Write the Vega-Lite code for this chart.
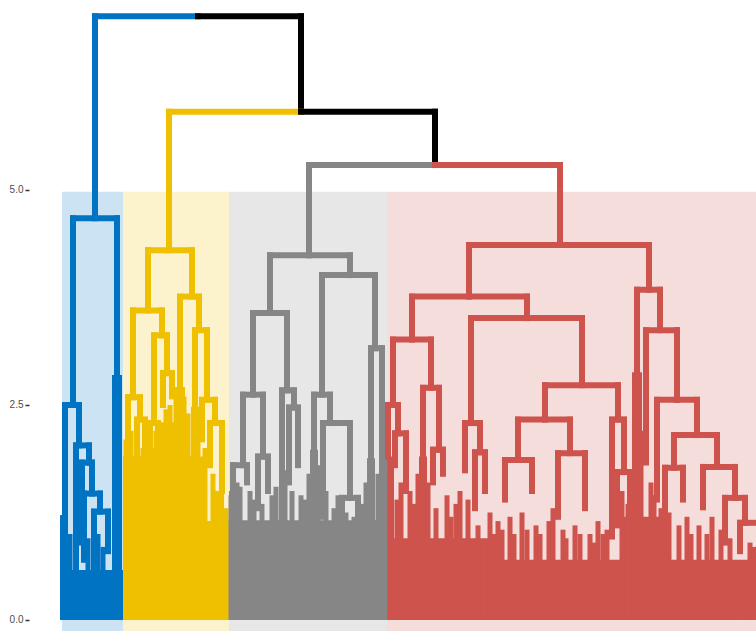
{
  "$schema": "https://vega.github.io/schema/vega-lite/v6.json",
  "width": 724,
  "height": 631,
  "autosize": {"type": "none"},
  "padding": {"left": 32, "top": 0, "right": 0, "bottom": 0},
  "background": "white",
  "config": {"view": {"stroke": null}},
  "datasets": {
    "bands": [
      {"x": 62, "x2": 123, "y": -0.13, "y2": 4.98, "c": "b"},
      {"x": 123, "x2": 229, "y": -0.13, "y2": 4.98, "c": "y"},
      {"x": 229, "x2": 387, "y": -0.13, "y2": 4.98, "c": "g"},
      {"x": 387, "x2": 756, "y": -0.13, "y2": 4.98, "c": "r"}
    ],
    "base": [
      {"x": 60, "x2": 123, "y": 0, "y2": 0.58, "c": "b"},
      {"x": 60, "x2": 68, "y": 0, "y2": 1.22, "c": "b"},
      {"x": 112, "x2": 122, "y": 0, "y2": 2.85, "c": "b"},
      {"x": 123, "x2": 203, "y": 0, "y2": 1.9, "c": "y"},
      {"x": 203, "x2": 229, "y": 0, "y2": 1.15, "c": "y"},
      {"x": 161, "x2": 174, "y": 0, "y2": 2.3, "c": "y"},
      {"x": 175, "x2": 185, "y": 0, "y2": 2.71, "c": "y"},
      {"x": 191, "x2": 199, "y": 0, "y2": 2.48, "c": "y"},
      {"x": 212, "x2": 224, "y": 0, "y2": 1.5, "c": "y"},
      {"x": 229, "x2": 387, "y": 0, "y2": 1.16, "c": "g"},
      {"x": 229, "x2": 240, "y": 0, "y2": 1.5, "c": "g"},
      {"x": 279, "x2": 286, "y": 0, "y2": 1.74, "c": "g"},
      {"x": 310, "x2": 318, "y": 0, "y2": 1.98, "c": "g"},
      {"x": 367, "x2": 375, "y": 0, "y2": 1.88, "c": "g"},
      {"x": 379, "x2": 386, "y": 0, "y2": 2.07, "c": "g"},
      {"x": 387, "x2": 756, "y": 0, "y2": 0.7, "c": "r"},
      {"x": 387, "x2": 500, "y": 0, "y2": 0.95, "c": "r"},
      {"x": 387, "x2": 394, "y": 0, "y2": 1.9, "c": "r"},
      {"x": 419, "x2": 427, "y": 0, "y2": 1.9, "c": "r"},
      {"x": 632, "x2": 642, "y": 0, "y2": 2.88, "c": "r"},
      {"x": 623, "x2": 670, "y": 0, "y2": 1.2, "c": "r"}
    ],
    "leaves": [
      {"x": 70, "x2": 70, "y": 0, "y2": 1.0, "c": "b"},
      {"x": 88, "x2": 88, "y": 0, "y2": 0.95, "c": "b"},
      {"x": 98, "x2": 98, "y": 0, "y2": 1.0, "c": "b"},
      {"x": 103, "x2": 103, "y": 0, "y2": 0.85, "c": "b"},
      {"x": 126, "x2": 126, "y": 0, "y2": 2.1, "c": "y"},
      {"x": 131, "x2": 131, "y": 0, "y2": 2.2, "c": "y"},
      {"x": 143, "x2": 143, "y": 0, "y2": 2.0, "c": "y"},
      {"x": 148, "x2": 148, "y": 0, "y2": 2.1, "c": "y"},
      {"x": 152, "x2": 152, "y": 0, "y2": 2.0, "c": "y"},
      {"x": 156, "x2": 156, "y": 0, "y2": 2.2, "c": "y"},
      {"x": 160, "x2": 160, "y": 0, "y2": 2.1, "c": "y"},
      {"x": 166, "x2": 166, "y": 0, "y2": 2.45, "c": "y"},
      {"x": 170, "x2": 170, "y": 0, "y2": 2.5, "c": "y"},
      {"x": 176, "x2": 176, "y": 0, "y2": 2.6, "c": "y"},
      {"x": 184, "x2": 184, "y": 0, "y2": 2.6, "c": "y"},
      {"x": 188, "x2": 188, "y": 0, "y2": 2.4, "c": "y"},
      {"x": 198, "x2": 198, "y": 0, "y2": 2.3, "c": "y"},
      {"x": 205, "x2": 205, "y": 0, "y2": 2.0, "c": "y"},
      {"x": 213, "x2": 213, "y": 0, "y2": 1.7, "c": "y"},
      {"x": 218, "x2": 218, "y": 0, "y2": 1.45, "c": "y"},
      {"x": 226, "x2": 226, "y": 0, "y2": 1.3, "c": "y"},
      {"x": 231, "x2": 231, "y": 0, "y2": 1.45, "c": "g"},
      {"x": 237, "x2": 237, "y": 0, "y2": 1.6, "c": "g"},
      {"x": 240, "x2": 240, "y": 0, "y2": 1.55, "c": "g"},
      {"x": 250, "x2": 250, "y": 0, "y2": 1.5, "c": "g"},
      {"x": 254, "x2": 254, "y": 0, "y2": 1.4, "c": "g"},
      {"x": 262, "x2": 262, "y": 0, "y2": 1.35, "c": "g"},
      {"x": 272, "x2": 272, "y": 0, "y2": 1.45, "c": "g"},
      {"x": 276, "x2": 276, "y": 0, "y2": 1.55, "c": "g"},
      {"x": 285, "x2": 285, "y": 0, "y2": 1.7, "c": "g"},
      {"x": 292, "x2": 292, "y": 0, "y2": 1.5, "c": "g"},
      {"x": 301, "x2": 301, "y": 0, "y2": 1.45, "c": "g"},
      {"x": 305, "x2": 305, "y": 0, "y2": 1.4, "c": "g"},
      {"x": 309, "x2": 309, "y": 0, "y2": 1.7, "c": "g"},
      {"x": 318, "x2": 318, "y": 0, "y2": 1.8, "c": "g"},
      {"x": 326, "x2": 326, "y": 0, "y2": 1.5, "c": "g"},
      {"x": 334, "x2": 334, "y": 0, "y2": 1.3, "c": "g"},
      {"x": 338, "x2": 338, "y": 0, "y2": 1.45, "c": "g"},
      {"x": 346, "x2": 346, "y": 0, "y2": 1.25, "c": "g"},
      {"x": 354, "x2": 354, "y": 0, "y2": 1.2, "c": "g"},
      {"x": 362, "x2": 362, "y": 0, "y2": 1.35, "c": "g"},
      {"x": 366, "x2": 366, "y": 0, "y2": 1.6, "c": "g"},
      {"x": 378, "x2": 378, "y": 0, "y2": 1.7, "c": "g"},
      {"x": 385, "x2": 385, "y": 0, "y2": 1.9, "c": "g"},
      {"x": 390, "x2": 390, "y": 0, "y2": 1.7, "c": "r"},
      {"x": 397, "x2": 397, "y": 0, "y2": 1.4, "c": "r"},
      {"x": 401, "x2": 401, "y": 0, "y2": 1.6, "c": "r"},
      {"x": 410, "x2": 410, "y": 0, "y2": 1.5, "c": "r"},
      {"x": 414, "x2": 414, "y": 0, "y2": 1.35, "c": "r"},
      {"x": 418, "x2": 418, "y": 0, "y2": 1.7, "c": "r"},
      {"x": 428, "x2": 428, "y": 0, "y2": 1.6, "c": "r"},
      {"x": 436, "x2": 436, "y": 0, "y2": 1.3, "c": "r"},
      {"x": 447, "x2": 447, "y": 0, "y2": 1.45, "c": "r"},
      {"x": 451, "x2": 451, "y": 0, "y2": 1.2, "c": "r"},
      {"x": 456, "x2": 456, "y": 0, "y2": 1.35, "c": "r"},
      {"x": 460, "x2": 460, "y": 0, "y2": 1.5, "c": "r"},
      {"x": 468, "x2": 468, "y": 0, "y2": 1.4, "c": "r"},
      {"x": 478, "x2": 478, "y": 0, "y2": 1.1, "c": "r"},
      {"x": 490, "x2": 490, "y": 0, "y2": 1.25, "c": "r"},
      {"x": 494, "x2": 494, "y": 0, "y2": 1.0, "c": "r"},
      {"x": 498, "x2": 498, "y": 0, "y2": 1.15, "c": "r"},
      {"x": 502, "x2": 502, "y": 0, "y2": 1.05, "c": "r"},
      {"x": 510, "x2": 510, "y": 0, "y2": 1.2, "c": "r"},
      {"x": 514, "x2": 514, "y": 0, "y2": 1.0, "c": "r"},
      {"x": 522, "x2": 522, "y": 0, "y2": 1.25, "c": "r"},
      {"x": 527, "x2": 527, "y": 0, "y2": 1.05, "c": "r"},
      {"x": 536, "x2": 536, "y": 0, "y2": 1.1, "c": "r"},
      {"x": 540, "x2": 540, "y": 0, "y2": 1.0, "c": "r"},
      {"x": 549, "x2": 549, "y": 0, "y2": 1.15, "c": "r"},
      {"x": 553, "x2": 553, "y": 0, "y2": 1.3, "c": "r"},
      {"x": 563, "x2": 563, "y": 0, "y2": 1.05, "c": "r"},
      {"x": 566, "x2": 566, "y": 0, "y2": 0.95, "c": "r"},
      {"x": 575, "x2": 575, "y": 0, "y2": 1.1, "c": "r"},
      {"x": 580, "x2": 580, "y": 0, "y2": 1.0, "c": "r"},
      {"x": 590, "x2": 590, "y": 0, "y2": 1.0, "c": "r"},
      {"x": 594, "x2": 594, "y": 0, "y2": 0.9, "c": "r"},
      {"x": 598, "x2": 598, "y": 0, "y2": 1.15, "c": "r"},
      {"x": 603, "x2": 603, "y": 0, "y2": 1.0, "c": "r"},
      {"x": 607, "x2": 607, "y": 0, "y2": 1.05, "c": "r"},
      {"x": 622, "x2": 622, "y": 0, "y2": 1.5, "c": "r"},
      {"x": 628, "x2": 628, "y": 0, "y2": 1.35, "c": "r"},
      {"x": 641, "x2": 641, "y": 0, "y2": 2.2, "c": "r"},
      {"x": 651, "x2": 651, "y": 0, "y2": 1.6, "c": "r"},
      {"x": 654, "x2": 654, "y": 0, "y2": 1.45, "c": "r"},
      {"x": 661, "x2": 661, "y": 0, "y2": 1.3, "c": "r"},
      {"x": 669, "x2": 669, "y": 0, "y2": 1.25, "c": "r"},
      {"x": 679, "x2": 679, "y": 0, "y2": 1.1, "c": "r"},
      {"x": 687, "x2": 687, "y": 0, "y2": 1.2, "c": "r"},
      {"x": 691, "x2": 691, "y": 0, "y2": 1.0, "c": "r"},
      {"x": 699, "x2": 699, "y": 0, "y2": 1.1, "c": "r"},
      {"x": 707, "x2": 707, "y": 0, "y2": 1.0, "c": "r"},
      {"x": 712, "x2": 712, "y": 0, "y2": 1.2, "c": "r"},
      {"x": 721, "x2": 721, "y": 0, "y2": 1.05, "c": "r"},
      {"x": 730, "x2": 730, "y": 0, "y2": 0.95, "c": "r"},
      {"x": 750, "x2": 750, "y": 0, "y2": 0.9, "c": "r"},
      {"x": 754, "x2": 754, "y": 0, "y2": 0.85, "c": "r"}
    ],
    "segs": [
      {"x": 95, "x2": 198, "y": 7.02, "y2": 7.02, "c": "b"},
      {"x": 198, "x2": 301, "y": 7.02, "y2": 7.02, "c": "k"},
      {"x": 301, "x2": 301, "y": 7.02, "y2": 5.91, "c": "k"},
      {"x": 169, "x2": 301, "y": 5.91, "y2": 5.91, "c": "y"},
      {"x": 301, "x2": 435, "y": 5.91, "y2": 5.91, "c": "k"},
      {"x": 435, "x2": 435, "y": 5.91, "y2": 5.29, "c": "k"},
      {"x": 95, "x2": 95, "y": 7.02, "y2": 4.67, "c": "b"},
      {"x": 73, "x2": 117, "y": 4.67, "y2": 4.67, "c": "b"},
      {"x": 73, "x2": 73, "y": 4.67, "y2": 2.5, "c": "b"},
      {"x": 117, "x2": 117, "y": 4.67, "y2": 2.85, "c": "b"},
      {"x": 65, "x2": 79, "y": 2.5, "y2": 2.5, "c": "b"},
      {"x": 65, "x2": 65, "y": 2.5, "y2": 1.24, "c": "b"},
      {"x": 79, "x2": 79, "y": 2.5, "y2": 2.03, "c": "b"},
      {"x": 76, "x2": 89, "y": 2.03, "y2": 2.03, "c": "b"},
      {"x": 76, "x2": 76, "y": 2.03, "y2": 0.6, "c": "b"},
      {"x": 89, "x2": 89, "y": 2.03, "y2": 1.83, "c": "b"},
      {"x": 82, "x2": 92, "y": 1.83, "y2": 1.83, "c": "b"},
      {"x": 82, "x2": 82, "y": 1.83, "y2": 0.9, "c": "b"},
      {"x": 92, "x2": 92, "y": 1.83, "y2": 1.47, "c": "b"},
      {"x": 84, "x2": 100, "y": 1.47, "y2": 1.47, "c": "b"},
      {"x": 84, "x2": 84, "y": 1.47, "y2": 0.7, "c": "b"},
      {"x": 100, "x2": 100, "y": 1.47, "y2": 1.26, "c": "b"},
      {"x": 94, "x2": 108, "y": 1.26, "y2": 1.26, "c": "b"},
      {"x": 94, "x2": 94, "y": 1.26, "y2": 0.5, "c": "b"},
      {"x": 108, "x2": 108, "y": 1.26, "y2": 0.8, "c": "b"},
      {"x": 169, "x2": 169, "y": 5.91, "y2": 4.3, "c": "y"},
      {"x": 148, "x2": 192, "y": 4.3, "y2": 4.3, "c": "y"},
      {"x": 148, "x2": 148, "y": 4.3, "y2": 3.6, "c": "y"},
      {"x": 133, "x2": 162, "y": 3.6, "y2": 3.6, "c": "y"},
      {"x": 133, "x2": 133, "y": 3.6, "y2": 2.59, "c": "y"},
      {"x": 128, "x2": 140, "y": 2.59, "y2": 2.59, "c": "y"},
      {"x": 128, "x2": 128, "y": 2.59, "y2": 1.9, "c": "y"},
      {"x": 140, "x2": 140, "y": 2.59, "y2": 2.33, "c": "y"},
      {"x": 137, "x2": 145, "y": 2.33, "y2": 2.33, "c": "y"},
      {"x": 137, "x2": 137, "y": 2.33, "y2": 1.5, "c": "y"},
      {"x": 145, "x2": 145, "y": 2.33, "y2": 1.9, "c": "y"},
      {"x": 162, "x2": 162, "y": 3.6, "y2": 3.31, "c": "y"},
      {"x": 154, "x2": 167, "y": 3.31, "y2": 3.31, "c": "y"},
      {"x": 154, "x2": 154, "y": 3.31, "y2": 2.29, "c": "y"},
      {"x": 150, "x2": 158, "y": 2.29, "y2": 2.29, "c": "y"},
      {"x": 150, "x2": 150, "y": 2.29, "y2": 1.8, "c": "y"},
      {"x": 158, "x2": 158, "y": 2.29, "y2": 2.0, "c": "y"},
      {"x": 167, "x2": 167, "y": 3.31, "y2": 2.87, "c": "y"},
      {"x": 163, "x2": 172, "y": 2.87, "y2": 2.87, "c": "y"},
      {"x": 163, "x2": 163, "y": 2.87, "y2": 2.5, "c": "y"},
      {"x": 172, "x2": 172, "y": 2.87, "y2": 2.6, "c": "y"},
      {"x": 192, "x2": 192, "y": 4.3, "y2": 3.76, "c": "y"},
      {"x": 180, "x2": 199, "y": 3.76, "y2": 3.76, "c": "y"},
      {"x": 180, "x2": 180, "y": 3.76, "y2": 2.71, "c": "y"},
      {"x": 199, "x2": 199, "y": 3.76, "y2": 3.37, "c": "y"},
      {"x": 195, "x2": 207, "y": 3.37, "y2": 3.37, "c": "y"},
      {"x": 195, "x2": 195, "y": 3.37, "y2": 2.48, "c": "y"},
      {"x": 207, "x2": 207, "y": 3.37, "y2": 2.56, "c": "y"},
      {"x": 202, "x2": 215, "y": 2.56, "y2": 2.56, "c": "y"},
      {"x": 202, "x2": 202, "y": 2.56, "y2": 2.1, "c": "y"},
      {"x": 215, "x2": 215, "y": 2.56, "y2": 2.29, "c": "y"},
      {"x": 210, "x2": 222, "y": 2.29, "y2": 2.29, "c": "y"},
      {"x": 210, "x2": 210, "y": 2.29, "y2": 1.8, "c": "y"},
      {"x": 222, "x2": 222, "y": 2.29, "y2": 1.5, "c": "y"},
      {"x": 309, "x2": 435, "y": 5.29, "y2": 5.29, "c": "g"},
      {"x": 309, "x2": 309, "y": 5.29, "y2": 4.24, "c": "g"},
      {"x": 270, "x2": 350, "y": 4.24, "y2": 4.24, "c": "g"},
      {"x": 270, "x2": 270, "y": 4.24, "y2": 3.57, "c": "g"},
      {"x": 253, "x2": 287, "y": 3.57, "y2": 3.57, "c": "g"},
      {"x": 253, "x2": 253, "y": 3.57, "y2": 2.62, "c": "g"},
      {"x": 243, "x2": 263, "y": 2.62, "y2": 2.62, "c": "g"},
      {"x": 243, "x2": 243, "y": 2.62, "y2": 1.8, "c": "g"},
      {"x": 233, "x2": 247, "y": 1.8, "y2": 1.8, "c": "g"},
      {"x": 233, "x2": 233, "y": 1.8, "y2": 1.3, "c": "g"},
      {"x": 247, "x2": 247, "y": 1.8, "y2": 1.6, "c": "g"},
      {"x": 263, "x2": 263, "y": 2.62, "y2": 1.9, "c": "g"},
      {"x": 258, "x2": 268, "y": 1.9, "y2": 1.9, "c": "g"},
      {"x": 258, "x2": 258, "y": 1.9, "y2": 1.3, "c": "g"},
      {"x": 268, "x2": 268, "y": 1.9, "y2": 1.5, "c": "g"},
      {"x": 287, "x2": 287, "y": 3.57, "y2": 2.67, "c": "g"},
      {"x": 282, "x2": 294, "y": 2.67, "y2": 2.67, "c": "g"},
      {"x": 282, "x2": 282, "y": 2.67, "y2": 1.74, "c": "g"},
      {"x": 294, "x2": 294, "y": 2.67, "y2": 2.47, "c": "g"},
      {"x": 289, "x2": 298, "y": 2.47, "y2": 2.47, "c": "g"},
      {"x": 289, "x2": 289, "y": 2.47, "y2": 1.6, "c": "g"},
      {"x": 298, "x2": 298, "y": 2.47, "y2": 1.8, "c": "g"},
      {"x": 350, "x2": 350, "y": 4.24, "y2": 4.01, "c": "g"},
      {"x": 322, "x2": 375, "y": 4.01, "y2": 4.01, "c": "g"},
      {"x": 322, "x2": 322, "y": 4.01, "y2": 2.62, "c": "g"},
      {"x": 314, "x2": 330, "y": 2.62, "y2": 2.62, "c": "g"},
      {"x": 314, "x2": 314, "y": 2.62, "y2": 1.98, "c": "g"},
      {"x": 330, "x2": 330, "y": 2.62, "y2": 2.29, "c": "g"},
      {"x": 323, "x2": 350, "y": 2.29, "y2": 2.29, "c": "g"},
      {"x": 323, "x2": 323, "y": 2.29, "y2": 1.2, "c": "g"},
      {"x": 350, "x2": 350, "y": 2.29, "y2": 1.42, "c": "g"},
      {"x": 342, "x2": 358, "y": 1.42, "y2": 1.42, "c": "g"},
      {"x": 342, "x2": 342, "y": 1.42, "y2": 0.9, "c": "g"},
      {"x": 358, "x2": 358, "y": 1.42, "y2": 1.1, "c": "g"},
      {"x": 375, "x2": 375, "y": 4.01, "y2": 3.16, "c": "g"},
      {"x": 371, "x2": 382, "y": 3.16, "y2": 3.16, "c": "g"},
      {"x": 371, "x2": 371, "y": 3.16, "y2": 1.88, "c": "g"},
      {"x": 382, "x2": 382, "y": 3.16, "y2": 2.07, "c": "g"},
      {"x": 435, "x2": 560, "y": 5.29, "y2": 5.29, "c": "r"},
      {"x": 560, "x2": 560, "y": 5.29, "y2": 4.36, "c": "r"},
      {"x": 469, "x2": 649, "y": 4.36, "y2": 4.36, "c": "r"},
      {"x": 469, "x2": 469, "y": 4.36, "y2": 3.76, "c": "r"},
      {"x": 412, "x2": 527, "y": 3.76, "y2": 3.76, "c": "r"},
      {"x": 412, "x2": 412, "y": 3.76, "y2": 3.26, "c": "r"},
      {"x": 393, "x2": 431, "y": 3.26, "y2": 3.26, "c": "r"},
      {"x": 393, "x2": 393, "y": 3.26, "y2": 2.5, "c": "r"},
      {"x": 388, "x2": 398, "y": 2.5, "y2": 2.5, "c": "r"},
      {"x": 388, "x2": 388, "y": 2.5, "y2": 1.9, "c": "r"},
      {"x": 398, "x2": 398, "y": 2.5, "y2": 2.17, "c": "r"},
      {"x": 395, "x2": 406, "y": 2.17, "y2": 2.17, "c": "r"},
      {"x": 395, "x2": 395, "y": 2.17, "y2": 1.8, "c": "r"},
      {"x": 406, "x2": 406, "y": 2.17, "y2": 1.5, "c": "r"},
      {"x": 431, "x2": 431, "y": 3.26, "y2": 2.7, "c": "r"},
      {"x": 423, "x2": 439, "y": 2.7, "y2": 2.7, "c": "r"},
      {"x": 423, "x2": 423, "y": 2.7, "y2": 1.9, "c": "r"},
      {"x": 439, "x2": 439, "y": 2.7, "y2": 1.98, "c": "r"},
      {"x": 433, "x2": 443, "y": 1.98, "y2": 1.98, "c": "r"},
      {"x": 433, "x2": 433, "y": 1.98, "y2": 1.6, "c": "r"},
      {"x": 443, "x2": 443, "y": 1.98, "y2": 1.7, "c": "r"},
      {"x": 527, "x2": 527, "y": 3.76, "y2": 3.51, "c": "r"},
      {"x": 471, "x2": 582, "y": 3.51, "y2": 3.51, "c": "r"},
      {"x": 471, "x2": 471, "y": 3.51, "y2": 2.29, "c": "r"},
      {"x": 465, "x2": 480, "y": 2.29, "y2": 2.29, "c": "r"},
      {"x": 465, "x2": 465, "y": 2.29, "y2": 1.74, "c": "r"},
      {"x": 480, "x2": 480, "y": 2.29, "y2": 1.95, "c": "r"},
      {"x": 475, "x2": 485, "y": 1.95, "y2": 1.95, "c": "r"},
      {"x": 475, "x2": 475, "y": 1.95, "y2": 1.3, "c": "r"},
      {"x": 485, "x2": 485, "y": 1.95, "y2": 1.5, "c": "r"},
      {"x": 582, "x2": 582, "y": 3.51, "y2": 2.73, "c": "r"},
      {"x": 545, "x2": 618, "y": 2.73, "y2": 2.73, "c": "r"},
      {"x": 545, "x2": 545, "y": 2.73, "y2": 2.33, "c": "r"},
      {"x": 518, "x2": 570, "y": 2.33, "y2": 2.33, "c": "r"},
      {"x": 518, "x2": 518, "y": 2.33, "y2": 1.86, "c": "r"},
      {"x": 505, "x2": 532, "y": 1.86, "y2": 1.86, "c": "r"},
      {"x": 505, "x2": 505, "y": 1.86, "y2": 1.4, "c": "r"},
      {"x": 532, "x2": 532, "y": 1.86, "y2": 1.5, "c": "r"},
      {"x": 570, "x2": 570, "y": 2.33, "y2": 1.94, "c": "r"},
      {"x": 558, "x2": 585, "y": 1.94, "y2": 1.94, "c": "r"},
      {"x": 558, "x2": 558, "y": 1.94, "y2": 1.2, "c": "r"},
      {"x": 585, "x2": 585, "y": 1.94, "y2": 1.3, "c": "r"},
      {"x": 618, "x2": 618, "y": 2.73, "y2": 2.33, "c": "r"},
      {"x": 612, "x2": 624, "y": 2.33, "y2": 2.33, "c": "r"},
      {"x": 612, "x2": 612, "y": 2.33, "y2": 0.97, "c": "r"},
      {"x": 624, "x2": 624, "y": 2.33, "y2": 1.72, "c": "r"},
      {"x": 617, "x2": 630, "y": 1.72, "y2": 1.72, "c": "r"},
      {"x": 617, "x2": 617, "y": 1.72, "y2": 1.1, "c": "r"},
      {"x": 630, "x2": 630, "y": 1.72, "y2": 1.2, "c": "r"},
      {"x": 649, "x2": 649, "y": 4.36, "y2": 3.84, "c": "r"},
      {"x": 637, "x2": 660, "y": 3.84, "y2": 3.84, "c": "r"},
      {"x": 637, "x2": 637, "y": 3.84, "y2": 2.88, "c": "r"},
      {"x": 660, "x2": 660, "y": 3.84, "y2": 3.37, "c": "r"},
      {"x": 646, "x2": 677, "y": 3.37, "y2": 3.37, "c": "r"},
      {"x": 646, "x2": 646, "y": 3.37, "y2": 1.83, "c": "r"},
      {"x": 677, "x2": 677, "y": 3.37, "y2": 2.56, "c": "r"},
      {"x": 657, "x2": 697, "y": 2.56, "y2": 2.56, "c": "r"},
      {"x": 657, "x2": 657, "y": 2.56, "y2": 1.4, "c": "r"},
      {"x": 697, "x2": 697, "y": 2.56, "y2": 2.15, "c": "r"},
      {"x": 674, "x2": 717, "y": 2.15, "y2": 2.15, "c": "r"},
      {"x": 674, "x2": 674, "y": 2.15, "y2": 1.77, "c": "r"},
      {"x": 665, "x2": 683, "y": 1.77, "y2": 1.77, "c": "r"},
      {"x": 665, "x2": 665, "y": 1.77, "y2": 1.2, "c": "r"},
      {"x": 683, "x2": 683, "y": 1.77, "y2": 1.4, "c": "r"},
      {"x": 717, "x2": 717, "y": 2.15, "y2": 1.78, "c": "r"},
      {"x": 703, "x2": 735, "y": 1.78, "y2": 1.78, "c": "r"},
      {"x": 703, "x2": 703, "y": 1.78, "y2": 1.31, "c": "r"},
      {"x": 735, "x2": 735, "y": 1.78, "y2": 1.42, "c": "r"},
      {"x": 725, "x2": 745, "y": 1.42, "y2": 1.42, "c": "r"},
      {"x": 725, "x2": 725, "y": 1.42, "y2": 0.9, "c": "r"},
      {"x": 745, "x2": 745, "y": 1.42, "y2": 1.13, "c": "r"},
      {"x": 740, "x2": 756, "y": 1.13, "y2": 1.13, "c": "r"},
      {"x": 740, "x2": 740, "y": 1.13, "y2": 0.8, "c": "r"}
    ]
  },
  "encoding": {
    "x": {"field": "x", "type": "quantitative", "scale": {"domain": [32, 756], "nice": false, "zero": false}, "axis": null},
    "x2": {"field": "x2"},
    "y": {
      "field": "y", "type": "quantitative",
      "scale": {"domain": [-0.128, 7.209], "nice": false, "zero": false},
      "axis": {"values": [0, 2.5, 5], "format": ".1f", "title": null, "domain": false, "grid": false, "tickSize": 4, "tickColor": "#333333", "tickWidth": 1.5, "labelColor": "#4d4d4d", "labelFontSize": 10, "labelFont": "Liberation Sans", "labelPadding": 2, "offset": 3}
    },
    "y2": {"field": "y2"},
    "color": {
      "field": "c", "type": "nominal",
      "scale": {"domain": ["b", "y", "g", "r", "k"], "range": ["#0073C2", "#EFC000", "#868686", "#CD534C", "#000000"]},
      "legend": null
    }
  },
  "layer": [
    {"data": {"name": "bands"}, "mark": {"type": "rect", "opacity": 0.2}},
    {"data": {"name": "base"}, "mark": {"type": "rect", "opacity": 1}},
    {"data": {"name": "leaves"}, "mark": {"type": "rule", "strokeWidth": 5}},
    {"data": {"name": "segs"}, "mark": {"type": "rule", "strokeWidth": 6, "strokeCap": "square"}}
  ]
}
